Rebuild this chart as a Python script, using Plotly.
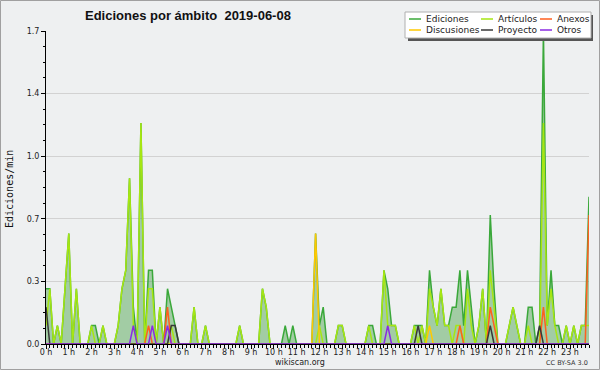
import plotly.graph_objects as go

# 10-minute bins (index i -> hour i/6), values in edits/min
ediciones = [
    0.3, 0.3, 0, 0.1, 0, 0.3, 0.6, 0, 0.3, 0, 0, 0,
    0.1, 0.1, 0, 0.1, 0, 0, 0, 0.1, 0.3, 0.4, 0.9, 0.2,
    0, 1.2, 0, 0.4, 0.4, 0, 0.2, 0, 0.3, 0.2, 0.1, 0,
    0, 0, 0, 0.2, 0, 0, 0.1, 0, 0, 0, 0, 0,
    0, 0, 0, 0.1, 0, 0, 0, 0, 0, 0.3, 0.2, 0,
    0, 0, 0, 0.1, 0, 0.1, 0, 0, 0, 0, 0, 0.6,
    0.1, 0.2, 0, 0, 0, 0.1, 0.1, 0, 0, 0, 0, 0,
    0, 0.1, 0.1, 0, 0, 0.4, 0.3, 0.1, 0.1, 0, 0, 0,
    0, 0.1, 0.1, 0.1, 0, 0.4, 0.2, 0.1, 0.3, 0.1, 0.1, 0.2,
    0.2, 0.4, 0.1, 0.4, 0.2, 0, 0.1, 0.3, 0, 0.7, 0.3, 0,
    0, 0, 0.1, 0.2, 0.1, 0, 0, 0.2, 0.2, 0, 0.1, 1.7,
    0.1, 0.4, 0.1, 0.1, 0, 0.1, 0, 0.1, 0, 0.1, 0.1, 0.8,
]
articulos = [
    0.1, 0.3, 0, 0.1, 0, 0.3, 0.6, 0, 0.3, 0, 0, 0,
    0.1, 0, 0, 0.1, 0, 0, 0, 0.1, 0.3, 0.4, 0.9, 0.1,
    0, 1.2, 0, 0.3, 0.3, 0, 0.2, 0, 0, 0.1, 0, 0,
    0, 0, 0, 0.2, 0, 0, 0.1, 0, 0, 0, 0, 0,
    0, 0, 0, 0.1, 0, 0, 0, 0, 0, 0.3, 0.2, 0,
    0, 0, 0, 0, 0, 0, 0, 0, 0, 0, 0, 0,
    0.1, 0, 0, 0, 0, 0.1, 0.1, 0, 0, 0, 0, 0,
    0, 0.1, 0, 0, 0, 0.4, 0.1, 0.1, 0.1, 0, 0, 0,
    0, 0.1, 0, 0.1, 0, 0.3, 0.2, 0.1, 0.3, 0.1, 0.1, 0,
    0.1, 0.1, 0, 0.3, 0.1, 0, 0.1, 0.3, 0, 0.4, 0.2, 0,
    0, 0, 0.1, 0.2, 0.1, 0, 0, 0.1, 0, 0, 0, 1.2,
    0.1, 0.3, 0.1, 0, 0, 0.1, 0, 0.1, 0, 0.1, 0.1, 0.1,
]
anexos = [
    0, 0, 0, 0, 0, 0, 0, 0, 0, 0, 0, 0,
    0, 0, 0, 0, 0, 0, 0, 0, 0, 0, 0, 0,
    0, 0, 0, 0.1, 0, 0, 0, 0, 0.2, 0, 0, 0,
    0, 0, 0, 0, 0, 0, 0, 0, 0, 0, 0, 0,
    0, 0, 0, 0, 0, 0, 0, 0, 0, 0, 0, 0,
    0, 0, 0, 0, 0, 0, 0, 0, 0, 0, 0, 0,
    0, 0, 0, 0, 0, 0, 0, 0, 0, 0, 0, 0,
    0, 0, 0, 0, 0, 0, 0, 0, 0, 0, 0, 0,
    0, 0, 0, 0, 0, 0, 0, 0, 0, 0, 0, 0,
    0, 0.1, 0, 0, 0, 0, 0, 0, 0, 0.2, 0.1, 0,
    0, 0, 0, 0, 0, 0, 0, 0, 0, 0, 0, 0.2,
    0, 0, 0, 0, 0, 0, 0, 0, 0, 0, 0, 0.7,
]
discusiones = [
    0, 0, 0, 0, 0, 0, 0, 0, 0, 0, 0, 0,
    0, 0, 0, 0, 0, 0, 0, 0, 0, 0, 0, 0,
    0, 0, 0, 0, 0, 0, 0, 0, 0, 0, 0, 0,
    0, 0, 0, 0, 0, 0, 0, 0, 0, 0, 0, 0,
    0, 0, 0, 0, 0, 0, 0, 0, 0, 0, 0, 0,
    0, 0, 0, 0, 0, 0, 0, 0, 0, 0, 0, 0.6,
    0, 0, 0, 0, 0, 0, 0, 0, 0, 0, 0, 0,
    0, 0, 0, 0, 0, 0, 0, 0, 0, 0, 0, 0,
    0, 0, 0, 0, 0, 0.1, 0, 0, 0, 0, 0, 0,
    0, 0, 0, 0, 0, 0, 0, 0, 0, 0, 0, 0,
    0, 0, 0, 0, 0, 0, 0, 0, 0, 0, 0, 0,
    0, 0, 0, 0, 0, 0, 0, 0, 0, 0, 0, 0,
]
proyecto = [
    0.2, 0, 0, 0, 0, 0, 0, 0, 0, 0, 0, 0,
    0, 0, 0, 0, 0, 0, 0, 0, 0, 0, 0, 0,
    0, 0, 0, 0, 0, 0, 0, 0, 0, 0.1, 0.1, 0,
    0, 0, 0, 0, 0, 0, 0, 0, 0, 0, 0, 0,
    0, 0, 0, 0, 0, 0, 0, 0, 0, 0, 0, 0,
    0, 0, 0, 0, 0, 0, 0, 0, 0, 0, 0, 0,
    0, 0, 0, 0, 0, 0, 0, 0, 0, 0, 0, 0,
    0, 0, 0, 0, 0, 0, 0, 0, 0, 0, 0, 0,
    0, 0, 0.1, 0, 0, 0, 0, 0, 0, 0, 0, 0,
    0, 0, 0, 0, 0, 0, 0, 0, 0, 0.1, 0, 0,
    0, 0, 0, 0, 0, 0, 0, 0, 0, 0, 0.1, 0,
    0, 0, 0, 0, 0, 0, 0, 0, 0, 0, 0, 0,
]
otros = [
    0, 0, 0, 0, 0, 0, 0, 0, 0, 0, 0, 0,
    0, 0, 0, 0, 0, 0, 0, 0, 0, 0, 0, 0.1,
    0, 0, 0, 0, 0.1, 0, 0, 0, 0.1, 0, 0, 0,
    0, 0, 0, 0, 0, 0, 0, 0, 0, 0, 0, 0,
    0, 0, 0, 0, 0, 0, 0, 0, 0, 0, 0, 0,
    0, 0, 0, 0, 0, 0, 0, 0, 0, 0, 0, 0,
    0, 0, 0, 0, 0, 0, 0, 0, 0, 0, 0, 0,
    0, 0, 0, 0, 0, 0, 0.1, 0, 0, 0, 0, 0,
    0, 0, 0, 0, 0, 0, 0, 0, 0, 0, 0, 0,
    0, 0, 0, 0, 0, 0, 0, 0, 0, 0, 0, 0,
    0, 0, 0, 0, 0, 0, 0, 0, 0, 0, 0, 0,
    0, 0, 0, 0, 0, 0, 0, 0, 0, 0, 0, 0,
]

hours = [i / 6 for i in range(len(ediciones))]
hour_ticks = list(range(24))
hour_labels = [f"{h} h" for h in hour_ticks]
y_ticks = [0, 0.34, 0.68, 1.02, 1.36, 1.7]
y_labels = ["0.0", "0.3", "0.7", "1.0", "1.4", "1.7"]

series = [
    ("Ediciones", ediciones, "#3aa83a"),
    ("Artículos", articulos, "#a6e612"),
    ("Anexos", anexos, "#ff5f1f"),
    ("Discusiones", discusiones, "#ffc800"),
    ("Proyecto", proyecto, "#383838"),
    ("Otros", otros, "#8a2be2"),
]

BG = "#eef0f1"
W, H = 600, 370
L, R, T, B = 46, 11, 31, 26
PW, PH = W - L - R, H - T - B


def px(x):
    return (x - L) / PW


def py(y):
    return (H - B - y) / PH


fig = go.Figure()
for name, vals, col in series:
    kw = {}
    if name == "Ediciones":
        kw = dict(fill="tozeroy", fillcolor="rgba(80,165,80,0.48)")
    fig.add_trace(go.Scatter(x=hours, y=vals, mode="lines", name=name,
                             line=dict(color=col, width=1.5), showlegend=False,
                             hoverinfo="skip", **kw))

axis_font = dict(family="DejaVu Sans", size=8, color="#222")
fig.update_layout(
    width=W, height=H, autosize=False,
    margin=dict(l=L, r=R, t=T, b=B, pad=0, autoexpand=False),
    paper_bgcolor=BG, plot_bgcolor=BG,
    xaxis=dict(range=[0, hours[-1]], tickmode="array", tickvals=hour_ticks, ticktext=hour_labels,
               ticks="outside", ticklen=4, tickcolor="black", tickwidth=1, automargin=False,
               ticklabelstandoff=-4,
               showline=True, linecolor="black", linewidth=1, showgrid=False, zeroline=False,
               tickfont=axis_font, fixedrange=True,
               minor=dict(tickmode="linear", tick0=0, dtick=1 / 6, ticks="outside", ticklen=3,
                          tickcolor="black", showgrid=False)),
    yaxis=dict(range=[0, 1.7], tickmode="array", tickvals=y_ticks, ticktext=y_labels,
               ticks="outside", ticklen=4, tickcolor="black", tickwidth=1, automargin=False,
               showline=True, linecolor="black", linewidth=1, showgrid=True,
               gridcolor="#d2d2d2", gridwidth=1, zeroline=False, tickfont=axis_font,
               fixedrange=True,
               minor=dict(tickmode="linear", tick0=0, dtick=0.085, ticks="outside", ticklen=2,
                          tickcolor="black", showgrid=False)),
)

shapes = []
ann = []
# outer border
shapes.append(dict(type="rect", xref="paper", yref="paper", x0=px(0.5), x1=px(599.5),
                   y0=py(0.5), y1=py(369.5), line=dict(color="#a0a0a0", width=1), layer="above"))
# legend box with shadow
shapes.append(dict(type="rect", xref="paper", yref="paper", x0=px(408), x1=px(593),
                   y0=py(15), y1=py(41), fillcolor="#555555", line=dict(width=0), layer="above"))
shapes.append(dict(type="rect", xref="paper", yref="paper", x0=px(405), x1=px(591),
                   y0=py(12), y1=py(38), fillcolor="white", line=dict(color="#b0b0b0", width=1),
                   layer="above"))
leg_pos = [(409, 424, 19), (481, 496, 19), (540, 555, 19),
           (409, 424, 30), (481, 496, 30), (540, 555, 30)]
for (lx, tx, ly), (name, _, col) in zip(leg_pos, series):
    shapes.append(dict(type="line", xref="paper", yref="paper", x0=px(lx), x1=px(lx + 12),
                       y0=py(ly), y1=py(ly), line=dict(color=col, width=1.5), layer="above"))
    ann.append(dict(text=name, xref="paper", yref="paper", x=px(tx), y=py(ly), xanchor="left",
                    yanchor="middle", showarrow=False,
                    font=dict(family="DejaVu Sans", size=9, color="#222")))

ann.append(dict(text="Ediciones por ámbito \u00a02019-06-08", xref="paper", yref="paper",
                x=px(188), y=py(16), xanchor="center", yanchor="middle", showarrow=False,
                font=dict(family="Liberation Sans", size=13, color="#111", weight="bold")))
ann.append(dict(text="Ediciones/min", xref="paper", yref="paper", x=px(9), y=py(189),
                xanchor="center", yanchor="middle", textangle=-90, showarrow=False,
                font=dict(family="DejaVu Sans Mono", size=10, color="#111")))
ann.append(dict(text="wikiscan.org", xref="paper", yref="paper", x=px(300), y=py(362),
                xanchor="center", yanchor="middle", showarrow=False,
                font=dict(family="DejaVu Sans", size=8, color="#222")))
ann.append(dict(text="CC BY-SA 3.0", xref="paper", yref="paper", x=px(590), y=py(363),
                xanchor="right", yanchor="middle", showarrow=False,
                font=dict(family="DejaVu Sans", size=6.5, color="#333")))

fig.update_layout(shapes=shapes, annotations=ann)
fig.write_html("out.html", config={"displayModeBar": False},
               post_script="document.body.style.margin='0';")
